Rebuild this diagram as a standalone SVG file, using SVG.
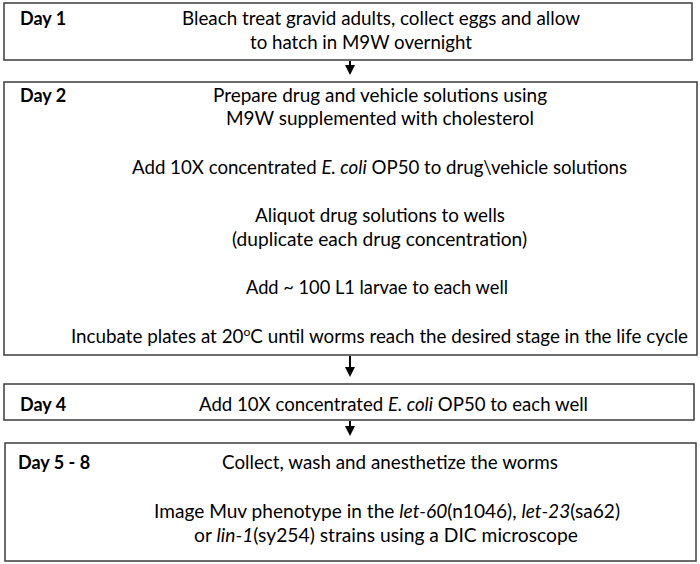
<svg xmlns="http://www.w3.org/2000/svg" width="700" height="564" viewBox="0 0 700 564">
<defs>
<style>
.box{fill:#fff;stroke:#3c3c3c;stroke-width:1.5}
.t{font-family:Lato,"Liberation Sans",sans-serif;font-size:18.5px;fill:#000}
.d{font-family:Lato,"Liberation Sans",sans-serif;font-size:18px;font-weight:bold;fill:#000}
.i{font-style:italic}
.c{stroke:#000;stroke-width:2;fill:none}
</style>
<marker id="ah" markerWidth="5" markerHeight="5" refX="4" refY="2.5" orient="auto" markerUnits="strokeWidth">
<path d="M0,0 L5,2.5 L0,5 Z" fill="#000"/>
</marker>
</defs>
<rect width="700" height="564" fill="#fff"/>
<g id="connectors">
<line class="c" x1="350" y1="61" x2="350" y2="73" marker-end="url(#ah)"/>
<line class="c" x1="350" y1="356" x2="350" y2="375" marker-end="url(#ah)"/>
<line class="c" x1="350" y1="421" x2="350" y2="434" marker-end="url(#ah)"/>
</g>
<g id="day1">
<rect class="box" x="4" y="3" width="688" height="57"/>
<text class="d" x="20" y="25">Day 1</text>
<text class="t" x="182" y="25" textLength="398" lengthAdjust="spacingAndGlyphs">Bleach treat gravid adults, collect eggs and allow</text>
<text class="t" x="250" y="49" textLength="222" lengthAdjust="spacingAndGlyphs">to hatch in M9W overnight</text>
</g>
<g id="day2">
<rect class="box" x="4" y="82" width="693" height="273"/>
<text class="d" x="20" y="102">Day 2</text>
<text class="t" x="213" y="102" textLength="334" lengthAdjust="spacingAndGlyphs">Prepare drug and vehicle solutions using</text>
<text class="t" x="226" y="125" textLength="308" lengthAdjust="spacingAndGlyphs">M9W supplemented with cholesterol</text>
<text class="t" x="132" y="174" textLength="495" lengthAdjust="spacingAndGlyphs">Add 10X concentrated <tspan class="i">E. coli</tspan> OP50 to drug\vehicle solutions</text>
<text class="t" x="255" y="222" textLength="250" lengthAdjust="spacingAndGlyphs">Aliquot drug solutions to wells</text>
<text class="t" x="232" y="246" textLength="295" lengthAdjust="spacingAndGlyphs">(duplicate each drug concentration)</text>
<text class="t" x="246" y="294" textLength="262" lengthAdjust="spacingAndGlyphs">Add ~ 100 L1 larvae to each well</text>
<text class="t" x="71" y="343" textLength="617" lengthAdjust="spacingAndGlyphs">Incubate plates at 20<tspan font-size="12" baseline-shift="7">o</tspan>C until worms reach the desired stage in the life cycle</text>
</g>
<g id="day4">
<rect class="box" x="4" y="384" width="690" height="36"/>
<text class="d" x="20" y="411">Day 4</text>
<text class="t" x="199" y="411" textLength="389" lengthAdjust="spacingAndGlyphs">Add 10X concentrated <tspan class="i">E. coli</tspan> OP50 to each well</text>
</g>
<g id="day5-8">
<rect class="box" x="5" y="443" width="691" height="118"/>
<text class="d" x="18" y="469">Day 5 - 8</text>
<text class="t" x="222" y="469" textLength="336" lengthAdjust="spacingAndGlyphs">Collect, wash and anesthetize the worms</text>
<text class="t" x="154" y="518" textLength="466" lengthAdjust="spacingAndGlyphs">Image Muv phenotype in the <tspan class="i">let-60</tspan>(n1046), <tspan class="i">let-23</tspan>(sa62)</text>
<text class="t" x="194" y="542" textLength="384" lengthAdjust="spacingAndGlyphs">or <tspan class="i">lin-1</tspan>(sy254) strains using a DIC microscope</text>
</g>
</svg>
